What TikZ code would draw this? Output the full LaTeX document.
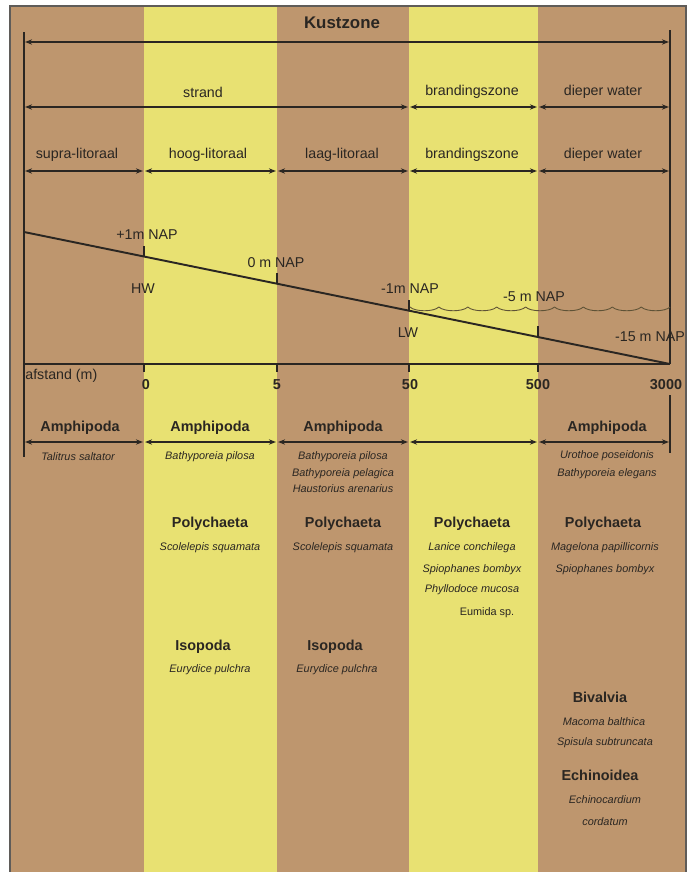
\documentclass[tikz,border=0pt]{standalone}
\usepackage{fontspec}
\setmainfont{Liberation Sans}
\usetikzlibrary{arrows.meta, calc, positioning}
\definecolor{zand}{HTML}{BE966E}
\definecolor{geel}{HTML}{E8E172}
\definecolor{inkt}{HTML}{2A2622}
\definecolor{golfkleur}{HTML}{5E5236}

\begin{document}
\begin{tikzpicture}[x=0.02cm, y=-0.02cm,
        titel/.style={font=\fontsize{9.6}{11}\selectfont\bfseries, text=inkt, inner sep=0pt},
        kop/.style={font=\fontsize{8.2}{9}\selectfont\bfseries, text=inkt, inner sep=0pt},
        lab/.style={font=\fontsize{8.1}{9}\selectfont, text=inkt, inner sep=0pt},
        soort/.style={font=\fontsize{6.2}{7}\selectfont\itshape, text=inkt, inner sep=0pt},
        maat/.style={{Stealth[length=4pt,width=3pt]}-{Stealth[length=4pt,width=3pt]},
                     inkt, line width=0.7pt, shorten <=0.6pt, shorten >=0.6pt},
        lijn/.style={inkt, line width=1.1pt},
        golf/.style={golfkleur, line width=0.5pt}
      ]
      \useasboundingbox (0,0) rectangle (690,872);
      \fill[white] (0,0) rectangle (690,872);

      % banden
      \fill[zand] (10,6) rectangle (686,872);
      \fill[geel] (144,6) rectangle (277,872);
      \fill[geel] (409,6) rectangle (538,872);
      \draw[inkt!75, line width=0.6pt] (10,872) -- (10,6) -- (686,6) -- (686,872);

      % grenzen en rijen
      \coordinate (k0) at (24,0);
      \coordinate (k1) at (144,0);
      \coordinate (k2) at (277,0);
      \coordinate (k3) at (409,0);
      \coordinate (k4) at (538,0);
      \coordinate (k5) at (670,0);
      \coordinate (r1) at (0,42);
      \coordinate (r2) at (0,107);
      \coordinate (r3) at (0,171);
      \coordinate (r4) at (0,442);

      \draw[inkt, line width=0.8pt] (24,32) -- (24,457);
      \draw[inkt, line width=0.8pt] (670,30) -- (670,364);
      \draw[inkt, line width=0.8pt] (670,395) -- (670,453);

      \node[titel] (kust) at (342,23) {Kustzone};
      \draw[maat] (k0 |- r1) -- (k5 |- r1);

      \node[lab] (strand) at (203,92) {strand};
      \node[lab] (brand1) at (472,92) {brandingszone};
      \node[lab] (diep1)  at (603,92) {dieper water};
      \draw[maat] (k0 |- r2) -- (k3 |- r2);
      \draw[maat] (k3 |- r2) -- (k4 |- r2);
      \draw[maat] (k4 |- r2) -- (k5 |- r2);

      \node[lab] (supra)  at (77,155)  {supra-litoraal};
      \node[lab] (hoog)   at (208,155) {hoog-litoraal};
      \node[lab] (laag)   at (342,155) {laag-litoraal};
      \node[lab] (brand2) at (472,155) {brandingszone};
      \node[lab] (diep2)  at (603,155) {dieper water};
      \foreach \a/\b in {k0/k1, k1/k2, k2/k3, k3/k4, k4/k5}
        \draw[maat] (\a |- r3) -- (\b |- r3);

      % profiel
      \coordinate (p0) at (24,232);
      \coordinate (p5) at (670,364);
      \coordinate (o0) at (24,364);
      \draw[lijn] (p0) -- (p5)
        coordinate[pos=0.1858] (p1)
        coordinate[pos=0.3916] (p2)
        coordinate[pos=0.5960] (p3)
        coordinate[pos=0.7957] (p4);
      \draw[lijn] (o0) -- (p5);
      \foreach \p in {p1, p2, p3, p4}
        \draw[inkt, line width=0.8pt] (\p) -- ++(0,-11);
      \foreach \k in {k1, k2, k3, k4}
        \draw[inkt, line width=0.8pt] (\k |- o0) -- ++(0,8);

      \foreach \i in {0,...,8}
        \draw[golf] ({410+28.9*\i},307) .. controls +(5,5) and +(-5,5) .. ({410+28.9*(\i+1)},307);

      \node[lab] (nap1)  at (147,235) {+1m NAP};
      \node[lab] (hw)    at (143,289) {HW};
      \node[lab] (nap0)  at (276,263) {0 m NAP};
      \node[lab] (napm1) at (410,289) {-1m NAP};
      \node[lab] (lw)    at (408,333) {LW};
      \node[lab] (napm5) at (534,297) {-5 m NAP};
      \node[lab] (napm15) at (650,337) {-15 m NAP};

      \node[lab, anchor=west] (afst) at (25,376) {afstand (m)};
      \node[kop] (a0)    at (146,385) {0};
      \node[kop] (a5)    at (277,385) {5};
      \node[kop] (a50)   at (410,385) {50};
      \node[kop] (a500)  at (538,385) {500};
      \node[kop] (a3000) at (666,385) {3000};

      % soorten
      \node[kop] (amf1) at (80,428)  {Amphipoda};
      \node[kop] (amf2) at (210,428) {Amphipoda};
      \node[kop] (amf3) at (343,428) {Amphipoda};
      \node[kop] (amf5) at (607,428) {Amphipoda};
      \foreach \a/\b in {k0/k1, k1/k2, k2/k3, k3/k4, k4/k5}
        \draw[maat] (\a |- r4) -- (\b |- r4);

      \node[soort] (tal)  at (78,457)  {Talitrus saltator};
      \node[soort] (bp2)  at (210,457) {Bathyporeia pilosa};
      \node[soort] (bp3)  at (343,457) {Bathyporeia pilosa};
      \node[soort] (bpe)  at (343,474) {Bathyporeia pelagica};
      \node[soort] (hau)  at (343,489) {Haustorius arenarius};
      \node[soort] (uro)  at (607,456) {Urothoe poseidonis};
      \node[soort] (bel)  at (607,474) {Bathyporeia elegans};

      \node[kop] (pol2) at (210,524) {Polychaeta};
      \node[kop] (pol3) at (343,524) {Polychaeta};
      \node[kop] (pol4) at (472,524) {Polychaeta};
      \node[kop] (pol5) at (603,524) {Polychaeta};
      \node[soort] (sco2) at (210,548) {Scolelepis squamata};
      \node[soort] (sco3) at (343,548) {Scolelepis squamata};
      \node[soort] (lan)  at (472,548) {Lanice conchilega};
      \node[soort] (spi4) at (472,570) {Spiophanes bombyx};
      \node[soort] (phy)  at (472,590) {Phyllodoce mucosa};
      \node[soort, font=\fontsize{6.2}{7}\selectfont] (eum) at (487,613) {Eumida sp.};
      \node[soort] (mag)  at (605,548) {Magelona papillicornis};
      \node[soort] (spi5) at (605,570) {Spiophanes bombyx};

      \node[kop] (iso2) at (203,647) {Isopoda};
      \node[kop] (iso3) at (335,647) {Isopoda};
      \node[soort] (eur2) at (210,670) {Eurydice pulchra};
      \node[soort] (eur3) at (337,670) {Eurydice pulchra};

      \node[kop] (biv) at (600,697) {Bivalvia};
      \node[soort] (mac) at (604,722) {Macoma balthica};
      \node[soort] (spis) at (605,743) {Spisula subtruncata};
      \node[kop] (ech) at (600,775) {Echinoidea};
      \node[soort] (echc) at (605,800) {Echinocardium};
      \node[soort] (cor)  at (605,822) {cordatum};
    \end{tikzpicture}
\end{document}
